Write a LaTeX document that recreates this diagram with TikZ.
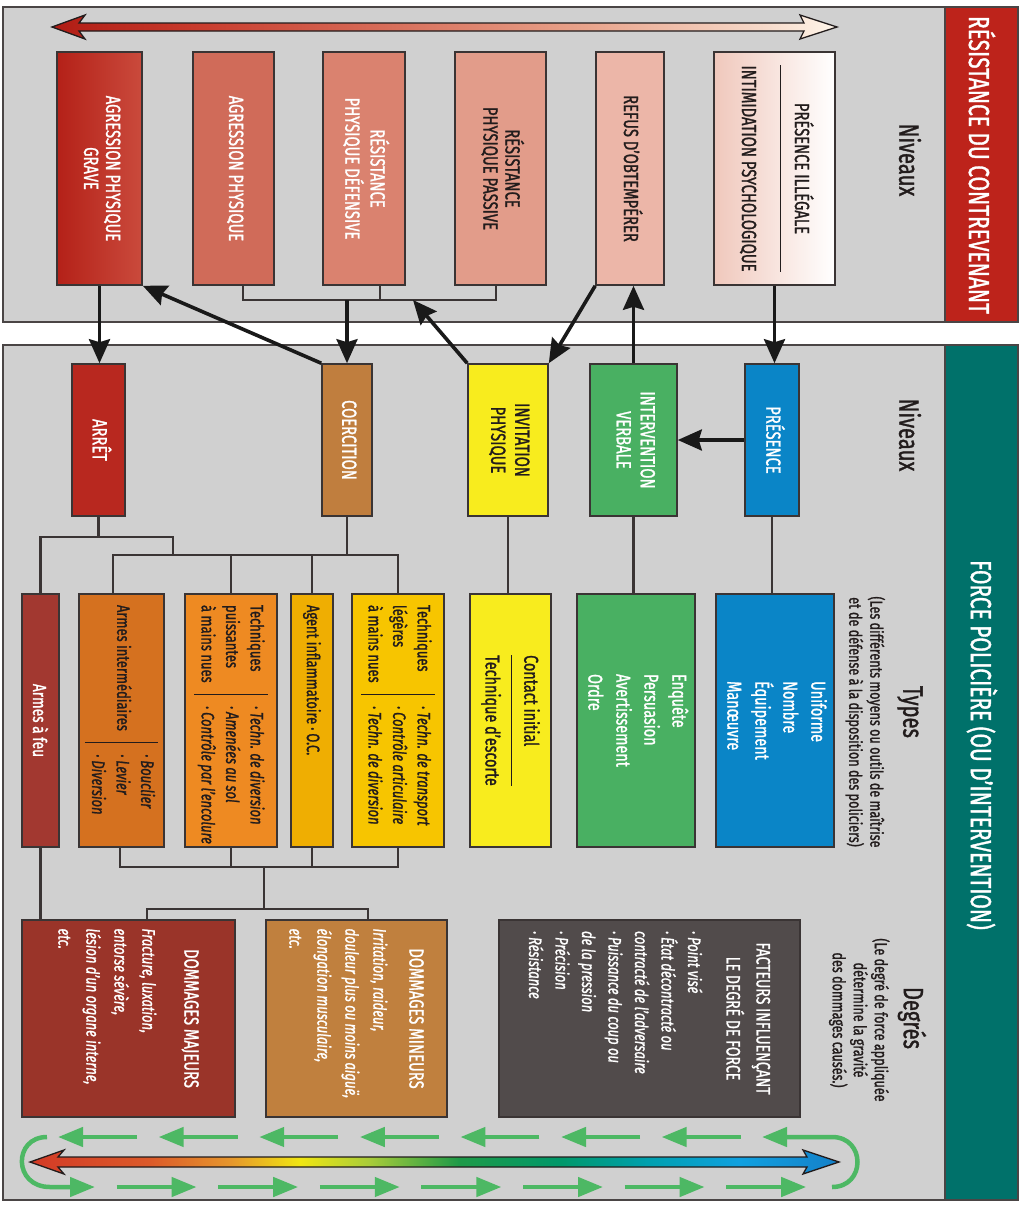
\documentclass[tikz,border=0pt]{standalone}
\usepackage{fontspec}
\setmainfont{Fira Sans}[FakeStretch=0.72, FakeBold=1.2]
\usepackage{array}
\usepackage{graphicx}
\usepackage{xcolor}
\usepackage{tikz}
\usetikzlibrary{shapes,arrows.meta,positioning,calc}

% colours
\definecolor{panelgray}{HTML}{D0D0D0}
\definecolor{framegray}{HTML}{4A4545}
\definecolor{bandred}{HTML}{BD231B}
\definecolor{bandteal}{HTML}{00716A}
\definecolor{resA}{HTML}{B42118}
\definecolor{resAb}{HTML}{CA4A3C}
\definecolor{resB}{HTML}{D06B59}
\definecolor{resC}{HTML}{DA826F}
\definecolor{resD}{HTML}{E29C8A}
\definecolor{resE}{HTML}{ECB6A8}
\definecolor{resF}{HTML}{F0C8BC}
\definecolor{forceblue}{HTML}{0A85C7}
\definecolor{forcegreen}{HTML}{49B062}
\definecolor{forceyellow}{HTML}{F8EC1E}
\definecolor{forcebrown}{HTML}{C07E3E}
\definecolor{forcered}{HTML}{B8281F}
\definecolor{typegold}{HTML}{F7C500}
\definecolor{typeamber}{HTML}{EFAE02}
\definecolor{typeorange}{HTML}{EE8A22}
\definecolor{typerust}{HTML}{D5711F}
\definecolor{typefire}{HTML}{A23830}
\definecolor{dmgmajor}{HTML}{9A3429}
\definecolor{dmgminor}{HTML}{C0803E}
\definecolor{factgray}{HTML}{514B4B}
\definecolor{flowgreen}{HTML}{4DB864}
\definecolor{inkdark}{HTML}{221C1C}
\definecolor{linkgray}{HTML}{3A3434}
% scale colours
\definecolor{sA}{HTML}{D23A26}
\definecolor{sB}{HTML}{DC5A2A}
\definecolor{sC}{HTML}{E6962C}
\definecolor{sD}{HTML}{F0E612}
\definecolor{sE}{HTML}{A8CC3A}
\definecolor{sF}{HTML}{1E9A48}
\definecolor{sG}{HTML}{00986A}
\definecolor{sH}{HTML}{00A0B0}
\definecolor{sI}{HTML}{10A0E0}
\definecolor{sJ}{HTML}{1580C8}
\definecolor{rA}{HTML}{B01C14}
\definecolor{rB}{HTML}{C83A2C}
\definecolor{rC}{HTML}{D8705C}
\definecolor{rD}{HTML}{E9A48C}
\definecolor{rE}{HTML}{F6D8C8}
\definecolor{rF}{HTML}{FFF6EA}

\pgfdeclarehorizontalshading{resistscale}{100bp}{color(0bp)=(rA); color(25bp)=(rA); color(34bp)=(rB); color(47bp)=(rC); color(59bp)=(rD); color(70bp)=(rE); color(75bp)=(rF); color(100bp)=(rF)}
\pgfdeclarehorizontalshading{forcescale}{100bp}{color(0bp)=(sA); color(25bp)=(sA); color(32.4bp)=(sB); color(37.4bp)=(sC); color(41.7bp)=(sD); color(46bp)=(sE); color(51.5bp)=(sF); color(57.8bp)=(sG); color(63.3bp)=(sH); color(68.9bp)=(sI); color(75bp)=(sJ); color(100bp)=(sJ)}

\setlength{\tabcolsep}{11pt}
\setlength{\arrayrulewidth}{1.4pt}
\newcommand{\vlab}[2][c]{\rotatebox{-90}{\begin{tabular}{@{}#1@{}}#2\end{tabular}}}
\newcommand{\vpar}[2]{\rotatebox{-90}{\parbox{#1}{#2}}}

\begin{document}
\begin{tikzpicture}[x=1pt, y=-1pt,
    panel/.style={draw=framegray, line width=1.8pt, fill=panelgray},
    band/.style={draw=framegray, line width=1.2pt, inner sep=0pt},
    bandtitle/.style={text=white, font=\fontsize{29}{32}\selectfont},
    box/.style={draw=linkgray, line width=1.6pt, inner sep=0pt},
    reslevel/.style={box, minimum height=233pt, font=\fontsize{20.5}{22}\selectfont},
    forcelevel/.style={box, minimum height=152pt, font=\fontsize{20.5}{24}\selectfont},
    typebox/.style={box, minimum height=253pt, font=\fontsize{20}{28}\selectfont},
    toolbox/.style={box, minimum height=253pt, font=\fontsize{18}{24.5}\selectfont},
    dmgbox/.style={box, minimum height=197pt, text=white, font=\fontsize{18}{28}\selectfont},
    head/.style={text=inkdark, font=\fontsize{28}{30}\selectfont},
    subhead/.style={text=inkdark, font=\fontsize{17.5}{21}\selectfont},
    link/.style={draw=linkgray, line width=2.2pt},
    arrow/.style={-{Stealth[length=24pt,width=21pt,inset=3pt]}, draw=black!90, line width=3.6pt},
    flow/.style={-{Triangle[length=25pt,width=19pt]}, draw=flowgreen, line width=4.5pt}]

    \useasboundingbox (0,0) rectangle (1023,1205);
    \fill[white] (0,0) rectangle (1023,1205);

    % panels and side bands
    \draw[panel] (3,7) rectangle (945,322);
    \draw[panel] (3,345) rectangle (945,1200);
    \node[band, fill=bandred, minimum width=73pt, minimum height=315pt] (resband) at (981.5,164.5) {};
    \node[band, fill=bandteal, minimum width=73pt, minimum height=855pt] (forceband) at (981.5,772.5) {};
    \node[bandtitle] (restitle) at (982,165) {\rotatebox{-90}{RÉSISTANCE DU CONTREVENANT}};
    \node[bandtitle] (forcetitle) at (982,745) {\rotatebox{-90}{FORCE POLICIÈRE (OU D'INTERVENTION)}};

    % column heads
    \node[head] (reshead) at (910,160) {\rotatebox{-90}{Niveaux}};
    \node[head] (levelhead) at (910,435) {\rotatebox{-90}{Niveaux}};
    \node[head] (typehead) at (910,712) {\rotatebox{-90}{Types}};
    \node[subhead] (typenote) at (864,722) {\vlab{(Les différents moyens ou outils de maîtrise\\et de défense à la disposition des policiers)}};
    \node[head] (degreehead) at (912,1018) {\rotatebox{-90}{Degrés}};
    \node[subhead] (degreenote) at (858,1020) {\vlab{(Le degré de force appliquée\\détermine la gravité\\des dommages causés.)}};

    % resistance scale
    \shadedraw[shading=resistscale, draw=inkdark, line width=1.3pt] (52,27) -- (85,15) -- (79,23) -- (804,23) -- (800,15) -- (837,27) -- (800,39) -- (804,31) -- (79,31) -- (85,39) -- cycle;

    % resistance levels
    \node[reslevel, left color=resA, right color=resAb, minimum width=85pt, text=white] (agrgrave) at (99.5,168.5) {\vlab{AGRESSION PHYSIQUE\\GRAVE}};
    \node[reslevel, fill=resB, minimum width=81pt, text=white] (agr) at (233.5,168.5) {\vlab{AGRESSION PHYSIQUE}};
    \node[reslevel, fill=resC, minimum width=82pt, text=white] (resdef) at (364,168.5) {\vlab{RÉSISTANCE\\PHYSIQUE DÉFENSIVE}};
    \node[reslevel, fill=resD, minimum width=91pt, text=inkdark] (respas) at (500.5,168.5) {\vlab{RÉSISTANCE\\PHYSIQUE PASSIVE}};
    \node[reslevel, fill=resE, minimum width=68pt, text=inkdark] (refus) at (630,168.5) {\vlab{REFUS D'OBTEMPÉRER}};
    \node[reslevel, left color=resF, right color=white, minimum width=121pt, text=inkdark] (presill) at (774.5,168.5) {\vlab{PRÉSENCE ILLÉGALE\\[7pt]\hline\rule{0pt}{38pt}INTIMIDATION PSYCHOLOGIQUE}};

    % force levels
    \node[forcelevel, fill=forceblue, minimum width=54pt, text=white] (presence) at (772,440) {\vlab{PRÉSENCE}};
    \node[forcelevel, fill=forcegreen, minimum width=87pt, text=white] (verbale) at (633.5,440) {\vlab{INTERVENTION\\VERBALE}};
    \node[forcelevel, fill=forceyellow, minimum width=80pt, text=inkdark] (invitation) at (508,440) {\vlab{INVITATION\\PHYSIQUE}};
    \node[forcelevel, fill=forcebrown, minimum width=50pt, text=white] (coercition) at (347,440) {\vlab{COERCITION}};
    \node[forcelevel, fill=forcered, minimum width=53pt, text=white] (arret) at (98.5,440) {\vlab{ARRÊT}};

    % types
    \node[typebox, fill=forceblue, minimum width=118pt, text=white] (tpres) at (775,720.5) {\vlab[l]{Uniforme\\Nombre\\Équipement\\Manœuvre}};
    \node[typebox, fill=forcegreen, minimum width=118pt, text=white] (tverb) at (636,720.5) {\vlab[l]{Enquête\\Persuasion\\Avertissement\\Ordre}};
    \node[typebox, fill=forceyellow, minimum width=81pt, text=inkdark] (tinv) at (510.5,720.5) {\vlab[l]{Contact initial\\[4pt]\hline\rule{0pt}{25pt}Technique d'escorte}};
    \node[toolbox, fill=typegold, minimum width=92pt, text=inkdark] (tleg) at (398,720.5) {\vpar{231pt}{\begin{tabular}{@{}l|>{\itshape}l@{}}Techniques & ·\,Techn. de transport\\légères & ·\,Contrôle articulaire\\à mains nues & ·\,Techn. de diversion\end{tabular}}};
    \node[toolbox, fill=typeamber, minimum width=42pt, text=inkdark] (tagent) at (312,720.5) {\vpar{231pt}{Agent inflammatoire\,·\,O.C.}};
    \node[toolbox, fill=typeorange, minimum width=92pt, text=inkdark] (tpuis) at (231,720.5) {\vpar{231pt}{\begin{tabular}{@{}l|>{\itshape}l@{}}Techniques & ·\,Techn. de diversion\\puissantes & ·\,Amenées au sol\\à mains nues & ·\,Contrôle par l'encolure\end{tabular}}};
    \node[toolbox, fill=typerust, minimum width=85pt, text=inkdark] (tarmes) at (121.5,720.5) {\vpar{231pt}{\begin{tabular}{@{}l|>{\itshape}l@{}}Armes intermédiaires & \begin{tabular}{@{}l@{}}·\,Bouclier\\·\,Levier\\·\,Diversion\end{tabular}\end{tabular}}};
    \node[toolbox, fill=typefire, minimum width=37pt, text=white, font=\fontsize{19}{24}\selectfont] (tfeu) at (40.5,720.5) {\rotatebox{-90}{Armes à feu}};

    % degrees
    \node[dmgbox, fill=dmgmajor, minimum width=213pt] (majeurs) at (128.5,1018.5) {\vpar{180pt}{{\centering\fontsize{20.5}{28}\selectfont DOMMAGES MAJEURS\par}\vspace{14pt}{\raggedright\itshape Fracture, luxation,\\entorse sévère,\\lésion d'un organe interne,\\etc.\par}}};
    \node[dmgbox, fill=dmgminor, minimum width=181pt] (mineurs) at (356.5,1018.5) {\vpar{180pt}{{\centering\fontsize{20.5}{28}\selectfont DOMMAGES MINEURS\par}\vspace{8pt}{\raggedright\itshape Irritation, raideur,\\douleur plus ou moins aiguë,\\élongation musculaire,\\etc.\par}}};
    \node[dmgbox, fill=factgray, minimum width=301pt] (facteurs) at (649.5,1018.5) {\vpar{175pt}{{\centering\fontsize{19.5}{30}\selectfont FACTEURS INFLUENÇANT\\LE DEGRÉ DE FORCE\par}\vspace{12pt}{\raggedright\itshape\fontsize{18}{26.5}\selectfont ·\,Point visé\\·\,État décontracté ou\\contracté de l'adversaire\\·\,Puissance du coup ou\\de la pression\\·\,Précision\\·\,Résistance\par}}};

    % resistance -> force
    \coordinate (resbus) at (0,300);
    \coordinate (resin) at (413,300);
    \draw[link] ([xshift=9.5pt]agr.south) |- ([xshift=-4.5pt]respas.south |- resbus) -- ([xshift=-4.5pt]respas.south);
    \draw[link] ([xshift=16pt]resdef.south) -- ([xshift=16pt]resdef.south |- resbus);
    \draw[arrow] (agrgrave.south) -- (agrgrave.south |- arret.north);
    \draw[arrow] (coercition.north |- resbus) -- (coercition.north);
    \draw[arrow] (coercition.north west) -- (agrgrave.south east);
    \draw[arrow] (invitation.north west) -- (resin);
    \draw[arrow] (refus.south west) -- (invitation.north east);
    \draw[arrow] (verbale.north) -- (verbale.north |- refus.south);
    \draw[arrow] (presill.south) -- (presill.south |- presence.north);
    \draw[arrow] (presence.west) -- (verbale.east);

    % levels -> types
    \coordinate (abus) at (0,537);
    \coordinate (cbus) at (0,555);
    \coordinate (ajoin) at (173,555);
    \draw[link] (presence.south) -- (presence.south |- tpres.north);
    \draw[link] (verbale.south) -- (verbale.south |- tverb.north);
    \draw[link] (invitation.south) -- (invitation.south |- tinv.north);
    \draw[link] (coercition.south) -- (coercition.south |- cbus);
    \draw[link] ([xshift=-8.5pt]tarmes.north) |- (tleg.north |- cbus) -- (tleg.north);
    \draw[link] (tpuis.north) -- (tpuis.north |- cbus);
    \draw[link] (tagent.north) -- (tagent.north |- cbus);
    \draw[link] (arret.south) -- (arret.south |- abus);
    \draw[link] (tfeu.north) |- (ajoin |- abus) -- (ajoin);

    % types -> degrees
    \coordinate (dbus) at (0,867);
    \coordinate (mbus) at (0,909);
    \coordinate (djoin) at (264,867);
    \draw[link] ([xshift=-1.5pt]tarmes.south) |- (tleg.south |- dbus) -- (tleg.south);
    \draw[link] (tpuis.south) -- (tpuis.south |- dbus);
    \draw[link] (tagent.south) -- (tagent.south |- dbus);
    \draw[link] (djoin) -- (djoin |- mbus);
    \draw[link] ([xshift=18.5pt]majeurs.north) |- ([xshift=11.5pt]mineurs.north |- mbus) -- ([xshift=11.5pt]mineurs.north);
    \draw[link] (tfeu.south) -- (tfeu.south |- majeurs.north);

    % force scale with circulating arrows
    \foreach \i in {0,...,6}
        \draw[flow] ({58+100.6*\i+79},1137) -- ({58+100.6*\i},1137);
    \foreach \i in {1,...,7}
        \draw[flow] ({95+101.6*\i-80},1187) -- ({95+101.6*\i},1187);
    \draw[flow] (832,1187) .. controls (866,1187) and (866,1137) .. (832,1137) -- (762,1137);
    \draw[flow] (47,1137) .. controls (13,1137) and (13,1187) .. (50,1187) -- (95,1187);
    \shadedraw[shading=forcescale, draw=inkdark, line width=1.3pt] (30,1162) -- (64,1150) -- (58,1157) -- (807,1157) -- (803,1150) -- (839,1162) -- (803,1174) -- (807,1167) -- (58,1167) -- (64,1174) -- cycle;
\end{tikzpicture}
\end{document}
